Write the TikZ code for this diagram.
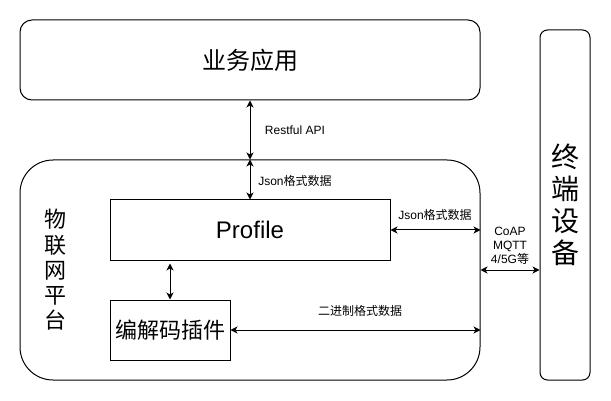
\documentclass[tikz,border=0pt]{standalone}
\usepackage{fontspec}
\setmainfont{Liberation Sans}
\newfontfamily\cjk{Noto Sans CJK SC}
\usetikzlibrary{arrows.meta}
\begin{document}
\begin{tikzpicture}[x=1pt,y=-1pt,
  box/.style={draw, line width=1pt, inner sep=0pt, fill=white},
  arr/.style={{Stealth[length=7pt,width=7pt,inset=2pt]}-{Stealth[length=7pt,width=7pt,inset=2pt]}, line width=1pt},
  lbl/.style={font=\fontsize{12}{13.8}\selectfont, inner sep=0pt, align=center}]
\useasboundingbox (0,0) rectangle (611,401);
\fill[white] (0,0) rectangle (611,401);
% boxes
\node[box, rounded corners=12pt, minimum width=460pt, minimum height=80pt,
      font=\fontsize{24}{27.6}\selectfont\cjk] (app) at (250,60) {业务应用};
\node[box, rounded corners=33pt, minimum width=460pt, minimum height=220pt] (plat) at (250,270) {};
\node[box, rounded corners=7.5pt, minimum width=50pt, minimum height=350pt] (term) at (565,205) {};
\node[font=\fontsize{28}{32.2}\selectfont\cjk, align=center, inner sep=0pt] (termtxt) at (565,205) {终\\端\\设\\备};
\node[font=\fontsize{22}{25.3}\selectfont\cjk, align=center, inner sep=0pt] (plattxt) at (55,270) {物\\联\\网\\平\\台};
\node[box, minimum width=280pt, minimum height=60pt,
      font=\fontsize{24}{27.6}\selectfont] (prof) at (250,230) {Profile};
\node[box, minimum width=120pt, minimum height=60pt,
      font=\fontsize{22}{25.3}\selectfont\cjk] (codec) at (170,330) {编解码插件};
% connectors
\draw[arr] (app.south) -- (plat.north);
\draw[arr] (plat.north) -- (prof.north);
\draw[arr] (prof.east) -- (prof.east -| plat.east);
\draw[arr, shorten >=3pt] (codec.north) -- (codec.north |- prof.south);
\draw[arr] (codec.east) -- (codec.east -| plat.east);
\draw[arr] (plat.east) -- (plat.east -| term.west);
% labels
\node[lbl] (l1) at (295,130) {Restful API};
\node[lbl] (l2) at (295,181) {Json{\cjk 格式数据}};
\node[lbl] (l3) at (435,215) {Json{\cjk 格式数据}};
\node[lbl, font=\fontsize{12}{13.8}\selectfont\cjk] (l4) at (360,311) {二进制格式数据};
\node[lbl] (l5) at (510,246) {CoAP\\MQTT\\4/5G{\cjk 等}};
\end{tikzpicture}
\end{document}
